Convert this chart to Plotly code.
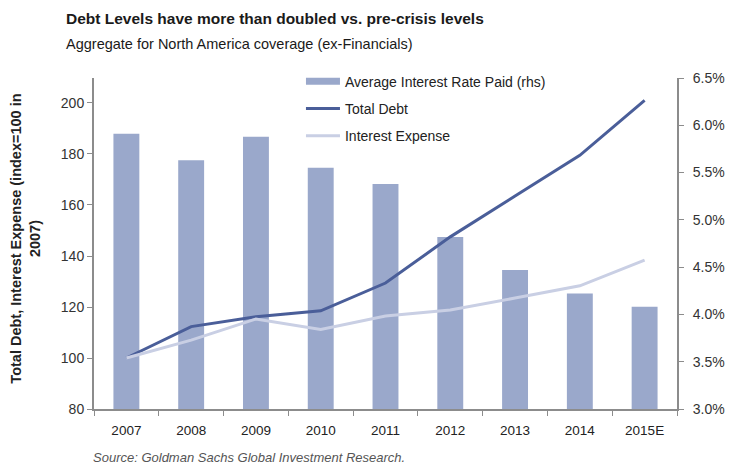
import plotly.graph_objects as go

years = ["2007", "2008", "2009", "2010", "2011", "2012", "2013", "2014", "2015E"]
avg_rate = [5.91, 5.63, 5.88, 5.55, 5.38, 4.82, 4.47, 4.22, 4.08]
total_debt = [100, 112.3, 116.2, 118.5, 129.4, 147.5, 163.5, 179.5, 201]
interest_exp = [100, 107, 115.3, 111.2, 116.5, 118.8, 123.5, 128.3, 138.4]

left_ticks = [80, 100, 120, 140, 160, 180, 200]
right_ticks = [3.0, 3.5, 4.0, 4.5, 5.0, 5.5, 6.0, 6.5]

BAR = "#9aa8cb"
DEBT = "#4a5e99"
EXP = "#c9cfe4"
AXIS = "#8c8c8c"
FONT = "Liberation Sans, Arial, sans-serif"

fig = go.Figure()
fig.add_trace(go.Bar(
    x=years, y=avg_rate, name="Average Interest Rate Paid (rhs)",
    marker=dict(color=BAR, line=dict(width=0)), yaxis="y", showlegend=False,
    legendgroup="a",
))
# legend-only entry giving the wide flat swatch of the bar series
fig.add_trace(go.Scatter(
    x=[None], y=[None], name="Average Interest Rate Paid (rhs)", mode="lines",
    line=dict(color=BAR, width=7), yaxis="y", legendgroup="a",
))
fig.add_trace(go.Scatter(
    x=years, y=total_debt, name="Total Debt", mode="lines",
    line=dict(color=DEBT, width=3), yaxis="y2", legendgroup="b",
))
fig.add_trace(go.Scatter(
    x=years, y=interest_exp, name="Interest Expense", mode="lines",
    line=dict(color=EXP, width=3), yaxis="y2", legendgroup="c",
))

fig.update_layout(
    width=740, height=467,
    margin=dict(l=94, r=63, t=78, b=58),
    paper_bgcolor="white", plot_bgcolor="white",
    font=dict(family=FONT, size=13, color="#333333"),
    bargap=0.6,
    showlegend=True,
    legend=dict(
        x=0.355, y=1.037, xanchor="left", yanchor="top",
        bgcolor="rgba(255,255,255,0)", font=dict(size=14, color="#222222"),
        tracegroupgap=6, itemwidth=34, traceorder="grouped",
    ),
    xaxis=dict(
        type="category", showgrid=False, showline=True, linecolor=AXIS, linewidth=2,
        ticks="outside", tickson="boundaries", ticklen=5, tickcolor=AXIS,
        ticklabelstandoff=8,
        tickfont=dict(size=13.5, color="#222222"),
    ),
    yaxis=dict(
        side="right", range=[3.0, 6.5], tickvals=right_ticks,
        ticktext=[f"{v:.1f}%" for v in right_ticks],
        showgrid=False, zeroline=False, showline=True, linecolor=AXIS, linewidth=2,
        ticks="outside", ticklen=5, tickcolor=AXIS, ticklabelstandoff=6,
        tickfont=dict(size=14, color="#333333"),
    ),
    yaxis2=dict(
        side="left", overlaying="y", range=[80, 209.8], tickvals=left_ticks,
        showgrid=False, zeroline=False, showline=True, linecolor=AXIS, linewidth=2,
        ticks="outside", ticklen=5, tickcolor=AXIS,
        tickfont=dict(size=14, color="#333333"),
    ),
    annotations=[
        dict(text="<b>Debt Levels have more than doubled vs. pre-crisis levels</b>",
             xref="paper", yref="paper", x=-0.0516, y=1.181, xanchor="left", yanchor="middle",
             showarrow=False, font=dict(size=15.5, color="#1a1a1a")),
        dict(text="Aggregate for North America coverage (ex-Financials)",
             xref="paper", yref="paper", x=-0.0516, y=1.103, xanchor="left", yanchor="middle",
             showarrow=False, font=dict(size=14.5, color="#1a1a1a")),
        dict(text="<b>Total Debt, Interest Expense (index=100 in<br>2007)</b>",
             xref="paper", yref="paper", x=-0.117, y=0.514, xanchor="center", yanchor="middle",
             textangle=-90, showarrow=False, font=dict(size=14.5, color="#222222")),
        dict(text="<i>Source: Goldman Sachs Global Investment Research.</i>",
             xref="paper", yref="paper", x=-0.005, y=-0.148, xanchor="left", yanchor="middle",
             showarrow=False, font=dict(size=13, color="#555555")),
    ],
)

fig.write_html("out.html")
